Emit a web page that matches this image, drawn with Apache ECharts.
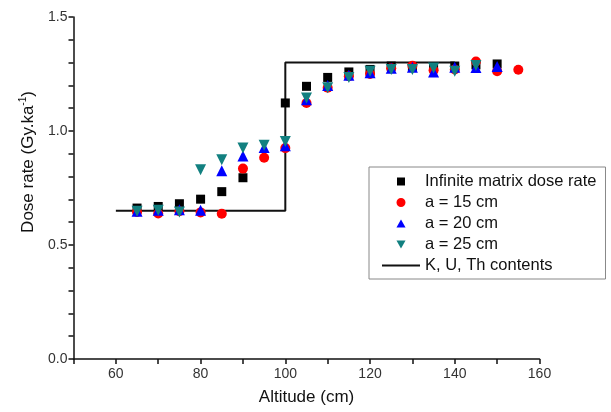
<!DOCTYPE html>
<html>
<head>
<meta charset="utf-8">
<script src="https://cdn.jsdelivr.net/npm/echarts@6/dist/echarts.min.js"></script>
<style>html,body{margin:0;padding:0;background:#fff;}#c{width:611px;height:412px;}</style>
</head>
<body>
<div id="c"></div>
<script>
var xBlack = [65,70,75,80,85,90,100,105,110,115,120,125,130,135,140,145,150];
var yBlack = [0.662,0.669,0.681,0.701,0.734,0.795,1.123,1.196,1.235,1.259,1.270,1.285,1.283,1.283,1.285,1.290,1.294];
var xRed = [65,70,75,80,85,90,95,100,105,110,115,120,125,130,135,140,145,150,155];
var yRed = [0.645,0.638,0.648,0.643,0.637,0.835,0.883,0.925,1.123,1.190,1.240,1.250,1.275,1.286,1.266,1.270,1.305,1.262,1.269];
var xBlue = [65,70,75,80,85,90,95,100,105,110,115,120,125,130,135,140,145,150];
var yBlue = [0.648,0.652,0.655,0.652,0.826,0.890,0.928,0.935,1.137,1.200,1.245,1.255,1.275,1.280,1.259,1.280,1.279,1.283];
var xTeal = [65,70,75,80,85,90,95,100,105,110,115,120,125,130,135,140,145];
var yTeal = [0.648,0.652,0.645,0.830,0.874,0.925,0.937,0.954,1.145,1.190,1.235,1.262,1.270,1.270,1.276,1.262,1.287];
var xLine = [60,100,100,140];
var yLine = [0.65,0.65,1.30,1.30];
var names = ['Infinite matrix dose rate','a = 15 cm','a = 20 cm','a = 25 cm','K, U, Th contents'];
var xTicks = [60,80,100,120,140,160];
var yTicks = [0.0,0.5,1.0,1.5];

function pairs(xs, ys){ return xs.map(function(x,i){ return [x, ys[i]]; }); }

var iconSquare = 'path://M1,1L9,1L9,9L1,9Z M0,0 M10,10';
var iconCircle = 'path://M5,0.5A4.5,4.5,0,1,1,4.99,0.5Z M0,0 M10,10';
var iconUp = 'path://M5,0L10,9L0,9Z M0,-1 M10,10';
var iconDown = 'path://M0,1L10,1L5,10Z M0,0 M10,11';
var iconLine = 'path://M0,0L38,0L38,2L0,2Z';

var chart = echarts.init(document.getElementById('c'), null, {renderer:'canvas'});
var font = 'Liberation Sans, Arial, sans-serif';
chart.setOption({
  animation: false,
  backgroundColor: '#fff',
  textStyle: {fontFamily: font},
  grid: {left: 73.5, right: 71.5, top: 17, bottom: 53, outerBoundsMode: 'none'},
  legend: {
    orient: 'vertical', left: 369, top: 167,
    data: [
      {name: names[0], icon: iconSquare},
      {name: names[1], icon: iconCircle},
      {name: names[2], icon: iconUp},
      {name: names[3], icon: iconDown},
      {name: names[4], icon: iconLine}
    ],
    symbolKeepAspect: true,
    itemWidth: 38, itemHeight: 10, itemGap: 4,
    padding: [6,9,5,13],
    borderColor: '#888', borderWidth: 1,
    textStyle: {fontSize: 16.5, color: '#111', fontFamily: font}
  },
  xAxis: {
    type: 'value', min: 50, max: 160, interval: 10,
    name: 'Altitude (cm)', nameLocation: 'middle', nameGap: 30,
    nameTextStyle: {fontSize: 17, color: '#111', fontFamily: font},
    axisLine: {lineStyle: {color: '#111', width: 1.5}},
    axisTick: {show: true, length: 5, inside: false, lineStyle: {color:'#111', width: 1.5}},
    axisLabel: {fontSize: 14, color: '#333', margin: 8,
      formatter: function(v){ return xTicks.indexOf(v) >= 0 ? String(v) : ''; }},
    splitLine: {show: false}
  },
  yAxis: {
    type: 'value', min: 0, max: 1.5, interval: 0.1,
    name: 'Dose rate (Gy.ka{sup|-1})', nameLocation: 'middle', nameGap: 36,
    nameTextStyle: {fontSize: 17, color: '#111', fontFamily: font, padding: [0,0,0,52],
      rich: {sup: {fontSize: 10, verticalAlign: 'top', padding: [0,0,9,0], fontFamily: font, color:'#111'}}},
    axisLine: {show: true, lineStyle: {color: '#111', width: 1.5}},
    axisTick: {show: true, length: 5, inside: false, lineStyle: {color:'#111', width: 1.5}},
    axisLabel: {fontSize: 14, color: '#333', margin: 6,
      formatter: function(v){ for (var i=0;i<yTicks.length;i++){ if (Math.abs(v-yTicks[i])<1e-6) return v.toFixed(1);} return ''; }},
    splitLine: {show: false}
  },
  series: [
    {name: names[4], type: 'line', data: pairs(xLine, yLine), symbol: 'none', z: 1,
      lineStyle: {color: '#111', width: 2}, itemStyle: {color: '#111'}},
    {name: names[0], type: 'scatter', data: pairs(xBlack, yBlack), symbol: 'rect', symbolSize: 9, z: 2,
      itemStyle: {color: '#000', opacity: 1}},
    {name: names[1], type: 'scatter', data: pairs(xRed, yRed), symbol: 'circle', symbolSize: 10, z: 3,
      itemStyle: {color: '#ff0000', opacity: 1}},
    {name: names[2], type: 'scatter', data: pairs(xBlue, yBlue), symbol: 'triangle', symbolSize: 11, z: 4,
      itemStyle: {color: '#0000ff', opacity: 1}},
    {name: names[3], type: 'scatter', data: pairs(xTeal, yTeal), symbol: 'triangle', symbolRotate: 180, symbolSize: 11, z: 5,
      itemStyle: {color: '#128080', opacity: 1}}
  ]
});
</script>
</body>
</html>
